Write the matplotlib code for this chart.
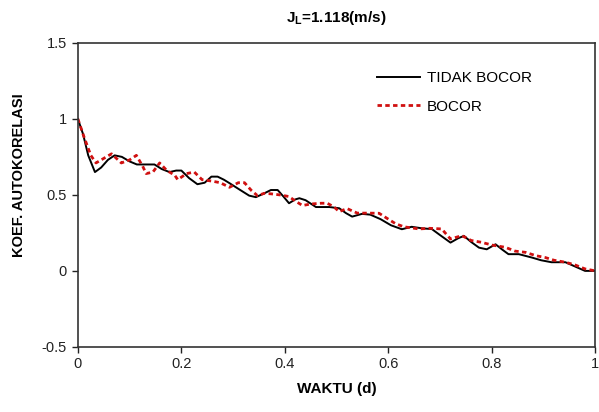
import matplotlib
matplotlib.use("Agg")
import matplotlib.pyplot as plt

title = r"J$_{\mathbf{L}}$=1.118(m/s)"
xlabel = "WAKTU (d)"
ylabel = "KOEF. AUTOKORELASI"
label_black = "TIDAK BOCOR"
label_red = "BOCOR"

x_black = [0.000, 0.010, 0.020, 0.033, 0.045, 0.058, 0.071, 0.085, 0.100, 0.114,
           0.130, 0.148, 0.162, 0.177, 0.190, 0.200, 0.215, 0.231, 0.245, 0.258,
           0.270, 0.282, 0.293, 0.310, 0.331, 0.344, 0.360, 0.373, 0.386, 0.397,
           0.408, 0.420, 0.428, 0.440, 0.460, 0.486, 0.505, 0.518, 0.530, 0.549,
           0.565, 0.585, 0.605, 0.626, 0.645, 0.665, 0.684, 0.700, 0.720, 0.735,
           0.746, 0.760, 0.775, 0.790, 0.807, 0.820, 0.832, 0.852, 0.877, 0.895,
           0.915, 0.942, 0.960, 0.980, 1.000]
y_black = [1.00, 0.90, 0.76, 0.65, 0.68, 0.73, 0.76, 0.75, 0.72, 0.70,
           0.70, 0.70, 0.67, 0.65, 0.66, 0.66, 0.61, 0.57, 0.58, 0.62,
           0.62, 0.60, 0.577, 0.54, 0.495, 0.485, 0.51, 0.532, 0.532, 0.49,
           0.445, 0.47, 0.478, 0.465, 0.42, 0.42, 0.412, 0.38, 0.357, 0.375,
           0.37, 0.34, 0.30, 0.274, 0.29, 0.28, 0.275, 0.235, 0.186, 0.215,
           0.23, 0.19, 0.153, 0.142, 0.175, 0.14, 0.11, 0.11, 0.088, 0.07,
           0.057, 0.057, 0.03, 0.00, 0.00]

x_red = [0.000, 0.012, 0.025, 0.035, 0.050, 0.065, 0.084, 0.100, 0.113, 0.125,
         0.132, 0.145, 0.158, 0.172, 0.187, 0.193, 0.210, 0.225, 0.240, 0.260,
         0.275, 0.293, 0.310, 0.322, 0.335, 0.347, 0.360, 0.373, 0.390, 0.408,
         0.420, 0.434, 0.450, 0.470, 0.482, 0.495, 0.505, 0.520, 0.540, 0.560,
         0.582, 0.600, 0.614, 0.630, 0.659, 0.680, 0.703, 0.720, 0.742, 0.760,
         0.780, 0.800, 0.826, 0.845, 0.865, 0.885, 0.903, 0.920, 0.942, 0.960,
         0.980, 1.000]
y_red = [1.00, 0.88, 0.76, 0.71, 0.74, 0.77, 0.71, 0.73, 0.76, 0.69,
         0.64, 0.65, 0.71, 0.66, 0.63, 0.60, 0.64, 0.65, 0.60, 0.59,
         0.58, 0.55, 0.58, 0.58, 0.53, 0.495, 0.51, 0.507, 0.50, 0.489,
         0.46, 0.43, 0.44, 0.445, 0.445, 0.42, 0.39, 0.41, 0.38, 0.38,
         0.379, 0.34, 0.31, 0.29, 0.276, 0.28, 0.276, 0.21, 0.232, 0.20,
         0.188, 0.17, 0.155, 0.13, 0.122, 0.10, 0.088, 0.07, 0.057, 0.04,
         0.013, 0.00]

xticks = [0, 0.2, 0.4, 0.6, 0.8, 1]
xticklabels = ["0", "0.2", "0.4", "0.6", "0.8", "1"]
yticks = [-0.5, 0, 0.5, 1, 1.5]
yticklabels = ["-0.5", "0", "0.5", "1", "1.5"]

plt.rcParams['font.family'] = ['Liberation Sans', 'DejaVu Sans']
plt.rcParams['mathtext.fontset'] = 'custom'
plt.rcParams['mathtext.rm'] = 'Liberation Sans'
plt.rcParams['mathtext.bf'] = 'Liberation Sans:bold'

fig = plt.figure(figsize=(5.99, 4.12), dpi=100)
ax = fig.add_axes([0.130, 0.158, 0.864, 0.738])

ax.plot(x_black, y_black, color='black', lw=1.4, label=label_black)
ax.plot(x_red, y_red, color='#d01010', lw=2.0, linestyle=(0, (1.6, 1.2)), label=label_red)

ax.set_xlim(0, 1)
ax.set_ylim(-0.5, 1.5)
ax.set_xticks(xticks)
ax.set_xticklabels(xticklabels)
ax.set_yticks(yticks)
ax.set_yticklabels(yticklabels)
ax.tick_params(direction='out', length=4, width=1, labelsize=10.5, colors='#222222')
ax.tick_params(axis='x', pad=3)
ax.tick_params(axis='y', pad=4)
for s in ax.spines.values():
    s.set_linewidth(1.2)
    s.set_color('#333333')

ax.set_title(title, fontsize=11, fontweight='bold', pad=15)
ax.set_xlabel(xlabel, fontsize=11, fontweight='bold', labelpad=8)
ax.set_ylabel(ylabel, fontsize=10.5, fontweight='bold')
ax.yaxis.set_label_coords(-0.100, 0.566)

leg = ax.legend(loc='upper left', bbox_to_anchor=(0.578, 0.907), frameon=False,
                borderaxespad=0, borderpad=0,
                fontsize=11, handlelength=2.8, handletextpad=0.45, labelspacing=0.95)

fig.savefig("out.png", dpi=100)
